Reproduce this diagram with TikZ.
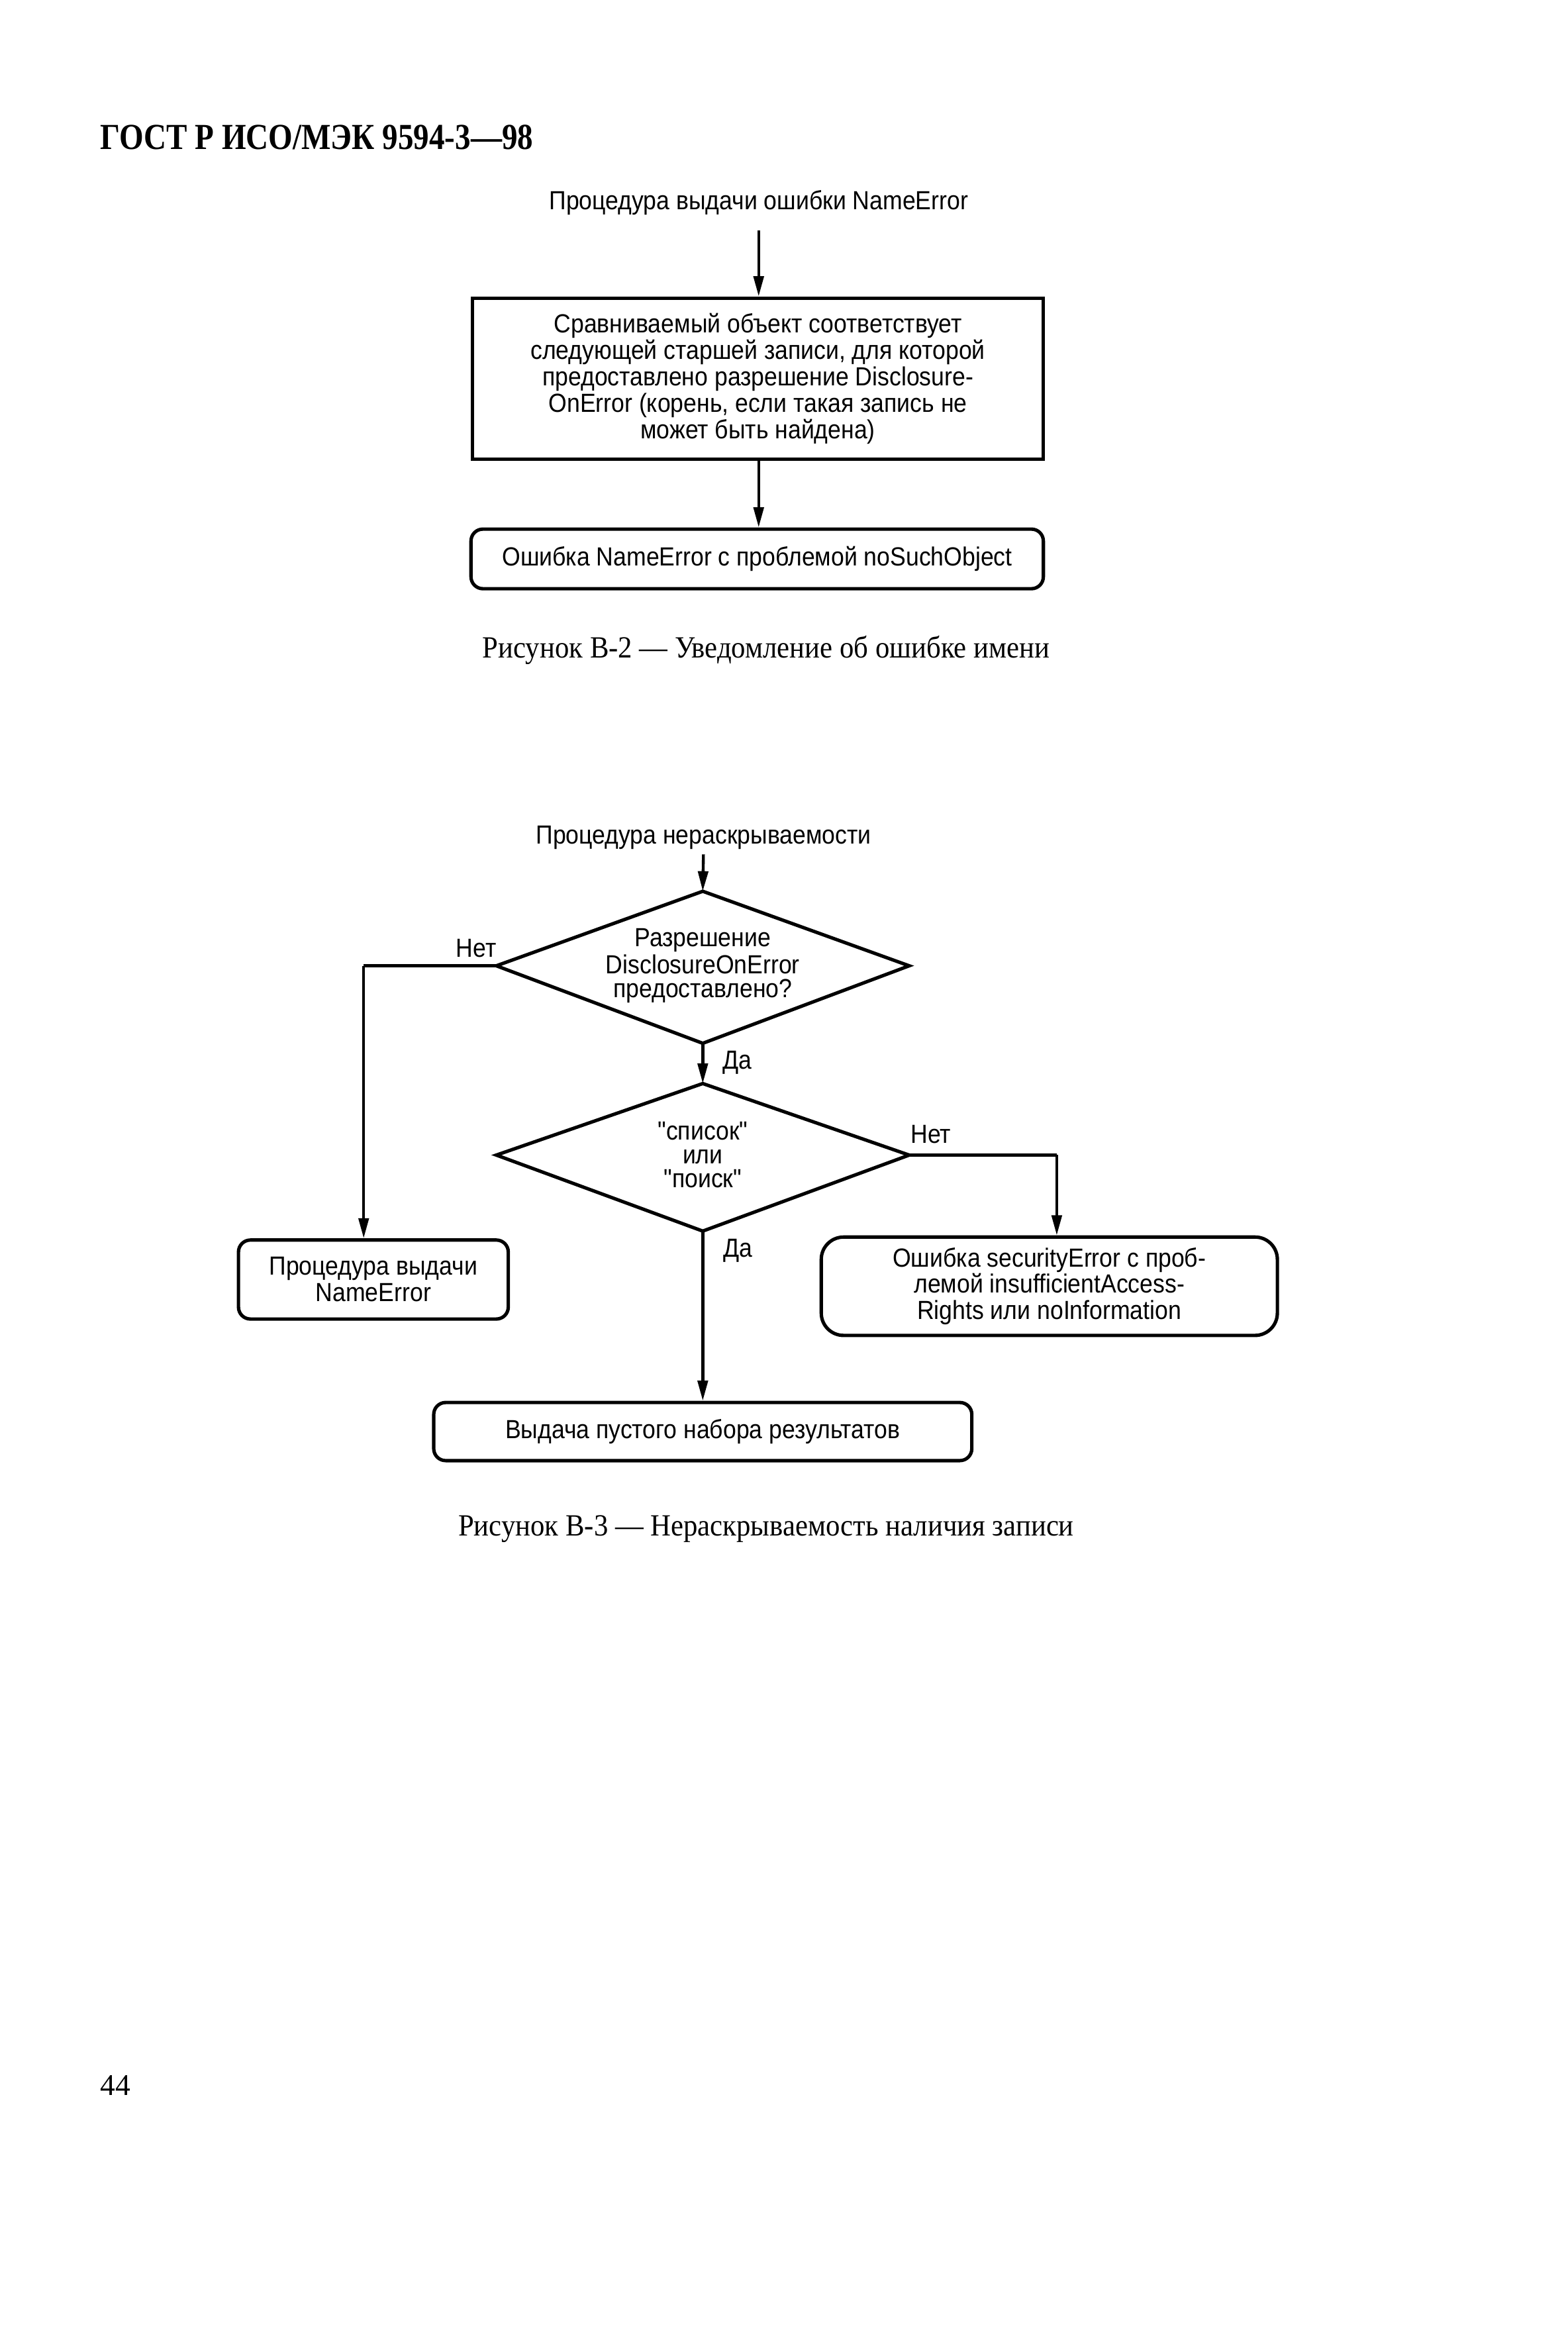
\documentclass[tikz,border=0pt]{standalone}
\usepackage{fontspec}
\setmainfont{Liberation Serif}
\newfontfamily\capfont{Liberation Serif}[FakeStretch=0.92]
\newfontfamily\hdrfont{Liberation Serif}[FakeStretch=0.85]
\newfontfamily\flowfont{Liberation Sans}[FakeStretch=0.9]
\usetikzlibrary{arrows.meta}
\begin{document}
\begin{tikzpicture}[x=0.2mm,y=-0.2mm,
  ff/.style={font=\flowfont\fontsize{10}{10.1}\selectfont},
  box/.style={draw, line width=1.3pt, inner sep=0pt, align=center, ff},
  rbox/.style={box, rounded corners=1.6mm},
  dtext/.style={inner sep=0pt, align=center, font=\flowfont\fontsize{10}{9.1}\selectfont},
  dshape/.style={draw, line width=1.3pt, line join=miter},
  arr/.style={line width=1.1pt, -{Triangle[length=2.7mm,width=1.35mm]}},
  ln/.style={line width=1.1pt},
  lbl/.style={ff, inner sep=0pt},
  captext/.style={font=\capfont\fontsize{11.75}{13}\selectfont, inner sep=0pt}]
\useasboundingbox (0,0) rectangle (1052,1567.35);

% header
\node[anchor=west, inner sep=0pt, font=\hdrfont\bfseries\fontsize{14}{16}\selectfont] (hdr) at (67,92) {ГОСТ Р ИСО/МЭК 9594-3—98};

% ---------- Figure B-2
\node[lbl] (t1) at (509,136) {Процедура выдачи ошибки NameError};
\node[box, minimum width=76.6mm, minimum height=21.6mm] (r1) at (508.5,254)
  {Сравниваемый объект соответствует\\
   следующей старшей записи, для которой\\
   предоставлено разрешение Disclosure-\\
   OnError (корень, если такая запись не\\
   может быть найдена)};
\node[rbox, minimum width=76.8mm, minimum height=8mm] (e1) at (508,375)
  {Ошибка NameError с проблемой noSuchObject};
\node[captext] (cap1) at (514,436) {Рисунок В-2 — Уведомление об ошибке имени};

\draw[arr, shorten <=2mm] (t1.south) -- (t1.south |- r1.north);
\draw[arr] (t1.south |- r1.south) -- (t1.south |- e1.north);

% ---------- Figure B-3
\node[lbl] (t2) at (472,562) {Процедура нераскрываемости};

% decision 1
\coordinate (d1n) at (471.5,598);
\coordinate (d1e) at (610,648);
\coordinate (d1s) at (471.5,700);
\coordinate (d1w) at (333,648);
\draw[dshape] (d1n) -- (d1e) -- (d1s) -- (d1w) -- cycle;
\node[dtext] (d1) at (471.5,648) {Разрешение\\DisclosureOnError\\предоставлено?};

% decision 2
\coordinate (d2n) at (471.5,727);
\coordinate (d2e) at (610,775);
\coordinate (d2s) at (471.5,826);
\coordinate (d2w) at (333,775);
\draw[dshape] (d2n) -- (d2e) -- (d2s) -- (d2w) -- cycle;
\node[dtext] (d2) at (471.5,775) {"список"\\или\\"поиск"};

\node[rbox, minimum width=36.2mm, minimum height=10.6mm] (bl) at (250.5,858.5)
  {Процедура выдачи\\NameError};
\node[box, rounded corners=3mm, minimum width=61.2mm, minimum height=13.2mm] (br) at (704,863)
  {Ошибка securityError с проб-\\лемой insufficientAccess-\\Rights или noInformation};
\node[rbox, minimum width=72.2mm, minimum height=7.8mm] (bb) at (471.5,960.5)
  {Выдача пустого набора результатов};
\node[captext] (cap2) at (514,1026) {Рисунок В-3 — Нераскрываемость наличия записи};

\coordinate (c1) at (244,648);
\coordinate (c2) at (709,775);

\draw[arr, shorten <=0.6mm] (t2.south) -- (d1n);
\draw[ln] (d1w) -- (c1);
\draw[arr] (c1) -- (c1 |- bl.north);
\draw[arr] (d1s) -- (d2n);
\draw[ln] (d2e) -- (c2);
\draw[arr] (c2) -- (c2 |- br.north);
\draw[arr] (d2s) -- (bb.north);

\node[lbl] (n1) at (319.5,636) {Нет};
\node[lbl] (y1) at (494.5,713) {Да};
\node[lbl] (n2) at (624.5,761) {Нет};
\node[lbl] (y2) at (495,839) {Да};

% page number
\node[anchor=west, inner sep=0pt, font=\fontsize{11.5}{13}\selectfont] (pg) at (67,1399) {44};
\end{tikzpicture}
\end{document}
